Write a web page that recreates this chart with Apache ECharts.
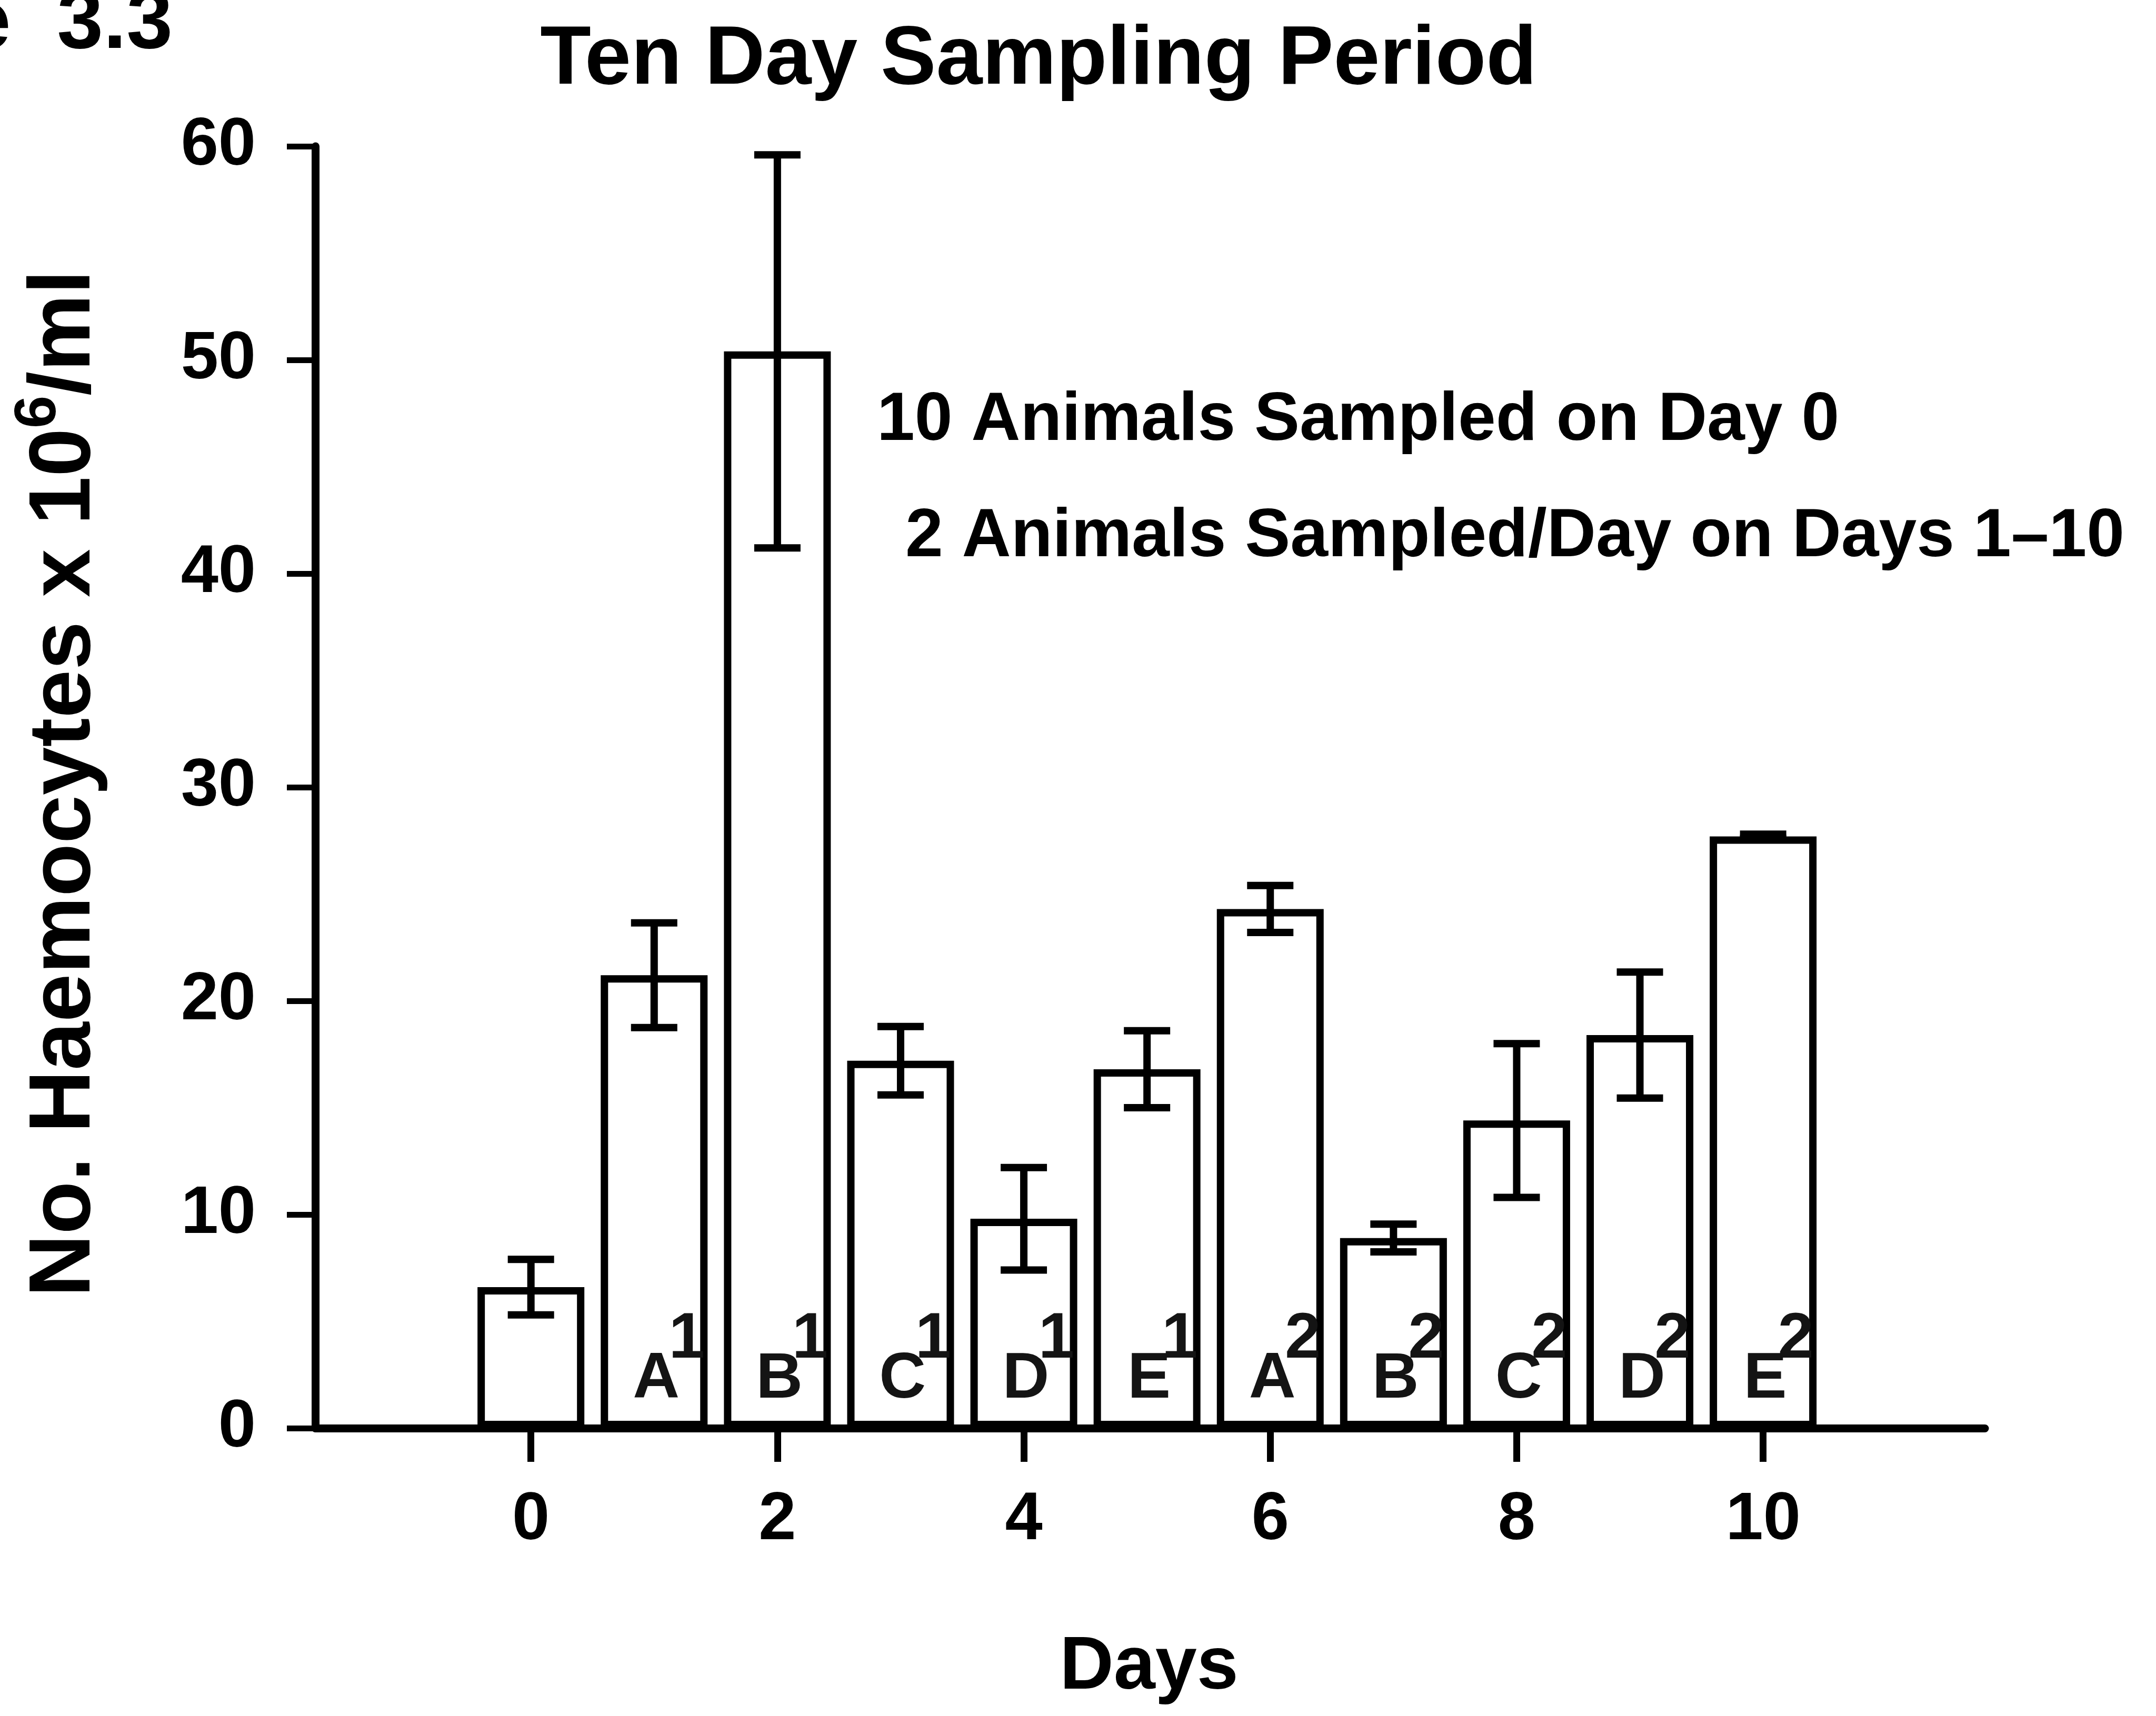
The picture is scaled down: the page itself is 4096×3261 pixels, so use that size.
<!DOCTYPE html>
<html>
<head>
<meta charset="utf-8">
<script src="https://cdn.jsdelivr.net/npm/echarts@6/dist/echarts.min.js"></script>
<style>
  html, body { margin: 0; padding: 0; background: #fff; }
  #chart { width: 4096px; height: 3261px; }
</style>
</head>
<body>
<div id="chart"></div>
<script>
// Haemocyte counts over a ten day sampling period (mean ± error per day)
const days = [0, 1, 2, 3, 4, 5, 6, 7, 8, 9, 10];
const meanCounts = [6.6, 21.2, 50.4, 17.2, 9.8, 16.8, 24.3, 8.9, 14.4, 18.4, 27.7];
const errors = [1.3, 2.45, 9.2, 1.6, 2.4, 1.8, 1.1, 0.65, 3.6, 2.95, 0.1];
const groupLetters = ['', 'A', 'B', 'C', 'D', 'E', 'A', 'B', 'C', 'D', 'E'];
const groupRounds = ['', '1', '1', '1', '1', '1', '2', '2', '2', '2', '2'];
const dayTicks = [0, 2, 4, 6, 8, 10];
const titleText = 'Ten Day Sampling Period';
const figureText = 'Figure  3.3';
const noteLines = ['10 Animals Sampled on Day 0', '2 Animals Sampled/Day on Days 1\u201310'];
const xTitle = 'Days';

const FONT = '"Liberation Sans", Arial, Helvetica, sans-serif';
const INK = '#000';
const TAG_INK = '#141414';

const barData = days.map((d, i) => [d, meanCounts[i]]);
const errData = days.map((d, i) => [d, meanCounts[i], errors[i]]);
const tagData = days.map((d, i) => ({
  value: [d, 0],
  label: { formatter: groupLetters[i] ? '{l|' + groupLetters[i] + '}{s|' + groupRounds[i] + '}' : '' }
}));

function textStyle(size, extra) {
  return Object.assign({
    fontSize: size, fontWeight: 'bold', fontFamily: FONT, fill: INK
  }, extra || {});
}

// Error bars: a vertical stroke with a cap at each end
function renderErrorBar(params, api) {
  const d = api.value(0), m = api.value(1), e = api.value(2);
  const hi = api.coord([d, m + e]);
  const lo = api.coord([d, m - e]);
  const cap = 44;
  const ls = { stroke: INK, lineWidth: 14, lineCap: 'butt', fill: null };
  return {
    type: 'group',
    children: [
      { type: 'line', shape: { x1: hi[0], y1: hi[1], x2: lo[0], y2: lo[1] }, style: ls },
      { type: 'line', shape: { x1: hi[0] - cap, y1: hi[1], x2: hi[0] + cap, y2: hi[1] }, style: ls },
      { type: 'line', shape: { x1: lo[0] - cap, y1: lo[1], x2: lo[0] + cap, y2: lo[1] }, style: ls }
    ]
  };
}

const chart = echarts.init(document.getElementById('chart'), null, { renderer: 'canvas' });

const axisLabelStyle = {
  fontSize: 128, fontWeight: 'bold', fontFamily: FONT, color: INK
};
const tagFont = { fontSize: 123, fontWeight: 'bold', fontFamily: FONT, color: TAG_INK };

chart.setOption({
  animation: false,
  backgroundColor: '#fff',
  grid: { left: 599, right: 325, top: 278, bottom: 547, outerBoundsMode: 'none' },
  xAxis: {
    type: 'value',
    min: -1.75,
    max: 11.8,
    axisLine: { show: true, onZero: false, lineStyle: { color: INK, width: 15 } },
    axisTick: { show: true, length: 64, customValues: dayTicks, lineStyle: { color: INK, width: 13 } },
    axisLabel: Object.assign({ customValues: dayTicks, margin: 112 }, axisLabelStyle),
    splitLine: { show: false }
  },
  yAxis: {
    type: 'value',
    min: 0,
    max: 60,
    interval: 10,
    axisLine: { show: true, onZero: false, lineStyle: { color: INK, width: 15 } },
    axisTick: { show: true, length: 54, lineStyle: { color: INK, width: 11 } },
    axisLabel: Object.assign({ margin: 113 }, axisLabelStyle),
    splitLine: { show: false }
  },
  series: [
    {
      type: 'bar',
      data: barData,
      barWidth: 203,
      silent: true,
      itemStyle: { color: '#fff', borderColor: INK, borderWidth: 14 }
    },
    {
      type: 'custom',
      data: errData,
      encode: { x: 0, y: 1 },
      clip: false,
      silent: true,
      z: 5,
      renderItem: renderErrorBar
    },
    {
      // group letter with its sampling round raised beside it, at the foot of each bar
      type: 'scatter',
      data: tagData,
      symbolSize: 0,
      silent: true,
      z: 6,
      itemStyle: { opacity: 1 },
      label: {
        show: true,
        position: 'top',
        distance: 30,
        offset: [38, 0],
        textBorderWidth: 0,
        rich: {
          l: Object.assign({ verticalAlign: 'bottom', width: 48, align: 'center' }, tagFont),
          s: Object.assign({ verticalAlign: 'bottom', align: 'left', padding: [0, 0, 76, 0] }, tagFont)
        }
      }
    }
  ],
  graphic: [
    { type: 'text', x: 1973, y: 115,
      style: textStyle(158, { text: titleText, align: 'center', verticalAlign: 'middle' }) },
    { type: 'text', x: 328, y: 47,
      style: textStyle(158, { text: figureText, align: 'right', verticalAlign: 'middle' }) },
    { type: 'text', x: 1666, y: 800,
      style: textStyle(129, { text: noteLines[0], align: 'left', verticalAlign: 'middle' }) },
    { type: 'text', x: 1720, y: 1021,
      style: textStyle(129, { text: noteLines[1], align: 'left', verticalAlign: 'middle' }) },
    { type: 'text', x: 2183, y: 3170,
      style: textStyle(142, { text: xTitle, align: 'center', verticalAlign: 'middle' }) },
    { type: 'text', x: 124, y: 1489, rotation: Math.PI / 2,
      style: {
        text: '{n|No. Haemocytes x 10}{s|6}{n|/ml}',
        align: 'center', verticalAlign: 'middle',
        rich: {
          n: { fontSize: 165, fontWeight: 'bold', fontFamily: FONT, fill: INK },
          s: { fontSize: 112, fontWeight: 'bold', fontFamily: FONT, fill: INK, padding: [0, 0, 100, 0] }
        }
      } }
  ]
});
</script>
</body>
</html>
